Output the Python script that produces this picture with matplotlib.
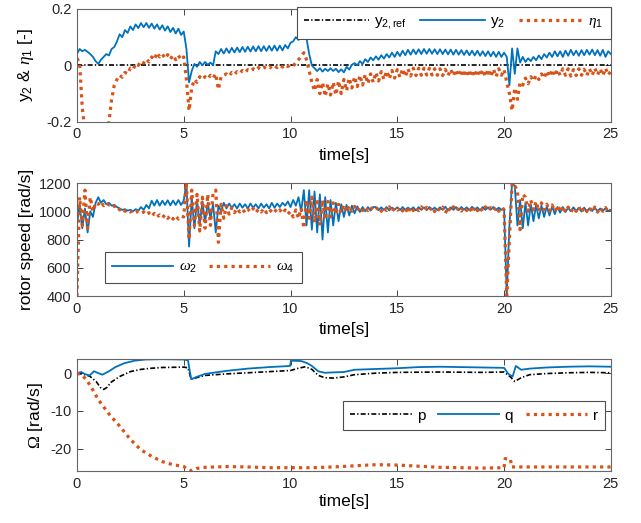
import numpy as np
import matplotlib.pyplot as plt

plt.rcParams['font.family'] = ['Liberation Sans', 'DejaVu Sans']
plt.rcParams['mathtext.fontset'] = 'custom'
plt.rcParams['mathtext.rm'] = 'Liberation Sans'
plt.rcParams['mathtext.it'] = 'Liberation Serif:italic'
plt.rcParams['mathtext.sf'] = 'Liberation Serif'
plt.rcParams['mathtext.default'] = 'regular'
plt.rcParams['axes.unicode_minus'] = False

BLUE = '#0072BD'
ORANGE = '#D95319'

# common time grid for panels 1 and 2 (8 samples per second)
t = np.arange(0, 25.0001, 0.125)

# panel 1: lateral output and internal state
y2_ref = [0.0] * len(t)
y2 = [
    0.040, 0.058, 0.050, 0.055, 0.048, 0.040, 0.030, 0.015,
    0.005, 0.020, 0.030, 0.040, 0.035, 0.058, 0.065, 0.085,
    0.110, 0.100, 0.125, 0.115, 0.138, 0.125, 0.145, 0.132,
    0.150, 0.135, 0.150, 0.133, 0.148, 0.130, 0.145, 0.127,
    0.142, 0.123, 0.138, 0.118, 0.133, 0.113, 0.130, 0.108,
    0.120, 0.060, -0.060, -0.020, 0.005, -0.005, 0.012, 0.000,
    0.012, 0.002, 0.010, 0.000, 0.050, 0.040, 0.058, 0.042,
    0.060, 0.044, 0.062, 0.046, 0.063, 0.047, 0.065, 0.048,
    0.066, 0.049, 0.067, 0.050, 0.068, 0.050, 0.068, 0.051,
    0.069, 0.052, 0.070, 0.052, 0.070, 0.053, 0.072, 0.060,
    0.080, 0.085, 0.100, 0.090, 0.110, 0.118, 0.095, 0.040,
    0.000, -0.010, -0.020, -0.010, -0.022, -0.012, -0.020, -0.010,
    -0.020, -0.012, -0.024, -0.014, -0.025, -0.005, -0.015, 0.002,
    0.008, 0.000, 0.015, 0.005, 0.022, 0.012, 0.028, 0.018,
    0.032, 0.020, 0.036, 0.024, 0.040, 0.028, 0.045, 0.030,
    0.048, 0.033, 0.052, 0.036, 0.055, 0.038, 0.056, 0.040,
    0.057, 0.040, 0.058, 0.041, 0.058, 0.041, 0.057, 0.040,
    0.057, 0.040, 0.056, 0.039, 0.056, 0.038, 0.055, 0.038,
    0.054, 0.037, 0.053, 0.036, 0.052, 0.035, 0.052, 0.034,
    0.050, 0.033, 0.050, 0.032, 0.048, 0.030, 0.048, 0.030,
    0.045, 0.030, -0.070, 0.060, -0.030, 0.060, 0.010, 0.030,
    0.012, 0.025, 0.015, 0.030, 0.018, 0.035, 0.022, 0.040,
    0.028, 0.045, 0.030, 0.050, 0.032, 0.050, 0.030, 0.052,
    0.034, 0.055, 0.036, 0.052, 0.034, 0.054, 0.036, 0.055,
    0.038, 0.056, 0.036, 0.054, 0.034, 0.055, 0.030, 0.050,
    0.040,
]
eta1 = [
    0.025, 0.010, -0.150, -0.230, -0.250, -0.250, -0.250, -0.250,
    -0.260, -0.260, -0.250, -0.230, -0.200, -0.120, -0.070, -0.050,
    -0.035, -0.042, -0.025, -0.030, -0.010, -0.015, 0.005, 0.000,
    0.015, 0.008, 0.022, 0.012, 0.030, 0.020, 0.045, 0.030,
    0.040, 0.025, 0.038, 0.022, 0.036, 0.020, 0.035, 0.020,
    0.030, -0.050, -0.160, -0.080, -0.050, -0.060, -0.040, -0.050,
    -0.040, -0.048, -0.035, -0.045, -0.030, -0.085, -0.040, -0.035,
    -0.030, -0.038, -0.025, -0.032, -0.022, -0.028, -0.018, -0.025,
    -0.015, -0.020, -0.012, -0.018, -0.008, -0.014, -0.006, -0.012,
    -0.004, -0.010, -0.002, -0.008, 0.000, -0.006, 0.002, -0.004,
    0.002, -0.002, 0.010, 0.020, 0.030, 0.045, 0.020, -0.020,
    -0.060, -0.090, -0.050, -0.100, -0.060, -0.110, -0.065, -0.105,
    -0.060, -0.105, -0.055, -0.100, -0.050, -0.090, -0.045, -0.080,
    -0.040, -0.075, -0.035, -0.070, -0.032, -0.065, -0.030, -0.060,
    -0.025, -0.055, -0.022, -0.050, -0.020, -0.048, -0.018, -0.045,
    -0.015, -0.042, -0.012, -0.040, -0.012, -0.038, -0.010, -0.036,
    -0.010, -0.035, -0.010, -0.034, -0.010, -0.034, -0.012, -0.035,
    -0.012, -0.036, -0.014, -0.036, -0.014, -0.037, -0.015, -0.038,
    -0.015, -0.040, -0.016, -0.040, -0.016, -0.040, -0.015, -0.038,
    -0.015, -0.040, -0.014, -0.040, -0.013, -0.040, -0.012, -0.035,
    -0.015, -0.060, -0.100, -0.160, -0.080, -0.120, -0.060, -0.070,
    -0.045, -0.065, -0.040, -0.055, -0.035, -0.050, -0.030, -0.045,
    -0.020, -0.040, -0.015, -0.038, -0.015, -0.035, -0.012, -0.035,
    -0.012, -0.038, -0.015, -0.036, -0.012, -0.035, -0.014, -0.036,
    -0.012, -0.035, -0.010, -0.034, -0.012, -0.036, -0.010, -0.034,
    -0.020,
]

# panel 2: rotor speeds [rad/s]
omega2 = [
    900, 1050, 880, 1020, 850, 1000, 960, 1060,
    1100, 1060, 1080, 1050, 1060, 1040, 1045, 1030,
    1020, 1010, 1015, 1005, 1010, 1000, 1015, 1005,
    1030, 1010, 1045, 1020, 1075, 1040, 1080, 1040,
    1075, 1045, 1078, 1042, 1076, 1045, 1080, 1045,
    1075, 1200, 750, 1100, 880, 1080, 900, 1070,
    920, 1060, 950, 1050, 850, 1040, 1000, 1060,
    1020, 1055, 1025, 1050, 1020, 1055, 1025, 1050,
    1020, 1055, 1025, 1050, 1020, 1055, 1025, 1050,
    1020, 1060, 1025, 1055, 1030, 1060, 1040, 1070,
    1030, 1080, 1040, 1100, 1000, 1150, 900, 1150,
    870, 1140, 850, 1120, 800, 1100, 850, 1080,
    900, 1060, 930, 1050, 960, 1045, 970, 1040,
    985, 1035, 995, 1030, 1000, 1030, 1005, 1030,
    1030, 1008, 1028, 1010, 1030, 1006, 1026, 1012,
    1028, 1008, 1030, 1010, 1026, 1012, 1028, 1006,
    1030, 1010, 1028, 1008, 1030, 1012, 1026, 1008,
    1028, 1010, 1032, 1006, 1028, 1010, 1030, 1008,
    1030, 1012, 1028, 1008, 1032, 1010, 1028, 1006,
    1030, 1010, 1028, 1012, 1030, 1008, 1026, 1010,
    1020, 400, 900, 1200, 1180, 900, 1080, 880,
    1060, 900, 1050, 930, 1045, 950, 1040, 960,
    1035, 970, 1035, 980, 1030, 990, 1030, 995,
    1025, 1000, 1028, 1002, 1024, 998, 1026, 1000,
    1022, 1002, 1025, 1000, 1020, 1004, 1022, 1002,
    1010,
]
omega4 = [
    400, 1100, 900, 1150, 880, 1100, 1000, 1060,
    1050, 1070, 1040, 1060, 1045, 1050, 1035, 1040,
    1010, 1020, 1000, 1010, 995, 1005, 990, 1000,
    985, 995, 975, 990, 965, 985, 960, 975,
    955, 975, 950, 970, 945, 968, 945, 965,
    960, 1200, 800, 1150, 900, 1120, 860, 1100,
    880, 1120, 900, 1130, 1150, 780, 1050, 950,
    1040, 980, 1025, 990, 1020, 995, 1015, 990,
    1015, 995, 1020, 990, 1015, 995, 1020, 990,
    1015, 995, 1015, 990, 1010, 985, 1010, 980,
    1000, 960, 1010, 950, 1020, 880, 1080, 950,
    1100, 920, 1090, 900, 1080, 940, 1070, 960,
    1060, 980, 1050, 990, 1045, 995, 1040, 1000,
    1035, 1000, 1030, 1005, 1030, 1005, 1030, 1005,
    1010, 1030, 1000, 1028, 1005, 1032, 995, 1025,
    1008, 1030, 1002, 1026, 985, 1030, 1005, 1028,
    1004, 1032, 1000, 1028, 1006, 1030, 998, 1026,
    1005, 1030, 985, 1028, 1000, 1032, 1004, 1026,
    1002, 1030, 1006, 1028, 990, 1032, 1004, 1030,
    1000, 1032, 1004, 1026, 1006, 1030, 1000, 1028,
    1010, 400, 800, 1200, 1180, 1150, 870, 1120,
    1100, 1000, 1080, 1010, 1070, 1000, 1060, 1010,
    1050, 1000, 1045, 1000, 1040, 995, 1035, 995,
    1030, 995, 1025, 1000, 1032, 992, 1028, 998,
    1026, 996, 1030, 994, 1024, 1000, 1026, 996,
    1010,
]

# panel 3: body rates [rad/s]
t_p = [0, 0.3, 0.6, 0.9, 1.1, 1.25, 1.4, 1.6, 2.0, 2.5,
       3.0, 3.5, 4.0, 5.0, 5.2, 5.35, 5.6, 6.0, 7.0, 8.0,
       9.0, 10.0, 10.3, 10.7, 11.0, 11.3, 11.6, 12.0, 12.5, 13.0,
       14.0, 15.0, 17.0, 19.0, 20.0, 20.3, 20.5, 20.8, 21.2, 22.0,
       23.0, 24.0, 25.0]
p = [0.0, -0.3, -0.8, -2.2, -3.8, -4.3, -3.8, -2.4, -0.9, 0.4,
     1.0, 1.3, 1.5, 1.6, 1.4, -1.6, -1.2, -0.6, -0.2, 0.1,
     0.4, 0.7, 1.2, 1.7, 1.0, -0.6, -1.2, -1.3, -1.0, -0.4,
     0.0, 0.2, 0.3, 0.2, 0.3, -1.0, -2.2, -1.2, -0.4, -0.1,
     0.1, 0.2, 0.1]
t_q = [0, 0.2, 0.4, 0.6, 0.8, 1.0, 1.2, 1.5, 1.8, 2.2,
       2.7, 3.2, 4.0, 5.0, 5.2, 5.35, 5.6, 6.0, 7.0, 8.0,
       9.0, 9.98, 10.02, 10.5, 10.8, 11.0, 11.3, 11.6, 12.0, 12.5,
       13.0, 14.0, 15.0, 16.0, 17.0, 18.0, 19.0, 20.0, 20.2, 20.4,
       20.55, 20.8, 21.2, 22.0, 23.0, 24.0, 25.0]
q = [0.0, 0.3, -0.3, -0.6, 0.5, 0.0, -0.4, 0.5, 1.6, 2.6,
     3.3, 3.6, 3.7, 3.6, 3.4, -1.6, -1.0, -0.2, 0.6, 1.2,
     1.6, 1.9, 3.3, 3.2, 2.6, 1.9, 0.5, 0.1, 0.2, 0.3,
     0.9, 1.1, 1.3, 1.6, 1.7, 1.6, 1.5, 1.4, -0.2, -0.9,
     1.9, 0.9, 1.2, 1.5, 1.7, 1.8, 1.7]
t_r = [0, 0.25, 0.5, 0.75, 1.0, 1.5, 2.0, 2.5, 3.0, 3.5,
       4.0, 4.5, 5.0, 5.2, 5.35, 5.6, 6.0, 7.0, 8.0, 9.0,
       10.0, 11.0, 12.0, 13.0, 14.0, 15.0, 16.0, 17.0, 18.0, 19.0,
       20.0, 20.05, 20.3, 20.35, 21.0, 22.0, 23.0, 24.0, 25.0]
r = [0.0, -0.5, -2.2, -4.5, -7.0, -10.8, -14.0, -17.5, -20.3, -22.0,
     -23.4, -24.2, -24.7, -25.5, -25.8, -25.2, -24.9, -24.7, -24.8, -25.0,
     -25.0, -25.0, -24.8, -24.5, -24.2, -24.3, -24.6, -24.9, -25.0, -25.1,
     -25.0, -22.6, -22.8, -24.8, -24.8, -24.8, -24.8, -24.8, -24.8]

DOT = (0, (1, 1.3))
DASHDOT = (0, (3, 1.3, 0.8, 1.3))

fig = plt.figure(figsize=(6.41, 5.23), dpi=100)
ax1 = fig.add_axes([0.120, 0.767, 0.833, 0.216])
ax2 = fig.add_axes([0.120, 0.434, 0.833, 0.216])
ax3 = fig.add_axes([0.120, 0.0985, 0.833, 0.2155])

leg_kw = dict(borderaxespad=0, fontsize=11, handletextpad=0.35, borderpad=0.5)

ax1.plot(t, y2_ref, color='black', lw=1.2, ls=DASHDOT, label=r'y$_{2,ref}$')
ax1.plot(t, y2, color=BLUE, lw=1.3, label=r'y$_2$')
ax1.plot(t, eta1, color=ORANGE, lw=2.3, ls=DOT, label=r'$\mathit{\eta}_1$')
ax1.set_ylim(-0.2, 0.2)
ax1.set_yticks([-0.2, 0, 0.2])
ax1.set_yticklabels(['-0.2', '0', '0.2'])
ax1.set_ylabel(r'y$_2$ & $\mathit{\eta}_1$ [-]', fontsize=12.5)
ax1.legend(loc='upper right', bbox_to_anchor=(1.0, 1.02), ncol=3,
           handlelength=4.2, columnspacing=0.9, **leg_kw)

ax2.plot(t, omega2, color=BLUE, lw=1.3, label=r'$\mathit{\omega}_2$')
ax2.plot(t, omega4, color=ORANGE, lw=2.3, ls=DOT, label=r'$\mathit{\omega}_4$')
ax2.set_ylim(400, 1200)
ax2.set_yticks([400, 600, 800, 1000, 1200])
ax2.set_ylabel('rotor speed [rad/s]', fontsize=12.5)
ax2.legend(loc='lower left', bbox_to_anchor=(0.052, 0.115), ncol=2,
           handlelength=4.0, columnspacing=0.8, **leg_kw)

ax3.plot(t_p, p, color='black', lw=1.2, ls=DASHDOT, label='p')
ax3.plot(t_q, q, color=BLUE, lw=1.3, label='q')
ax3.plot(t_r, r, color=ORANGE, lw=2.3, ls=DOT, label='r')
ax3.set_ylim(-26, 3.8)
ax3.set_yticks([-20, -10, 0])
ax3.set_ylabel(r'$\mathsf{\Omega}$ [rad/s]', fontsize=12.5)
ax3.legend(loc='lower left', bbox_to_anchor=(0.498, 0.365), ncol=3,
           handlelength=4.0, columnspacing=0.85, **leg_kw)

for ax, ylx, xly in [(ax1, -0.077, -0.23), (ax2, -0.080, -0.23), (ax3, -0.060, -0.20)]:
    ax.set_xlim(0, 25)
    ax.set_xticks([0, 5, 10, 15, 20, 25])
    ax.set_xlabel('time[s]', fontsize=12.5, va='top')
    ax.xaxis.set_label_coords(0.5, xly)
    ax.yaxis.set_label_coords(ylx, 0.5)
    ax.tick_params(direction='in', top=True, right=True, length=4,
                   width=0.6, labelsize=10.5, colors='0.15', pad=4)
    for s in ax.spines.values():
        s.set_color('0.4')
        s.set_linewidth(0.8)
    leg = ax.get_legend()
    leg.get_frame().set_boxstyle('square', pad=0)
    leg.get_frame().set_edgecolor('0.3')
    leg.get_frame().set_linewidth(0.8)
    leg.get_frame().set_alpha(1)

fig.savefig('out.png', dpi=100)
